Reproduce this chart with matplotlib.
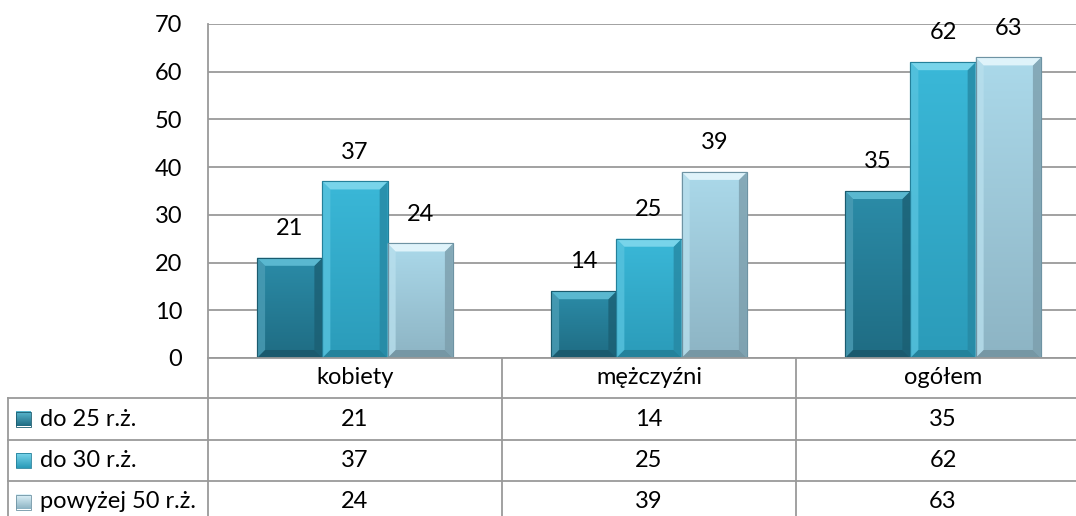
import numpy as np
import matplotlib
matplotlib.use("Agg")
import matplotlib.pyplot as plt
from matplotlib import transforms
from matplotlib.patches import Polygon, Rectangle
from matplotlib.colors import to_rgb

plt.rcParams['font.family'] = ['Lato', 'DejaVu Sans']

categories = ["kobiety", "mężczyźni", "ogółem"]
series_names = ["do 25 r.ż.", "do 30 r.ż.", "powyżej 50 r.ż."]
values = [
    [21, 14, 35],
    [37, 25, 62],
    [24, 39, 63],
]
yticks = [0, 10, 20, 30, 40, 50, 60, 70]

# (top body, bottom body, bevel highlight, edge)
styles = [
    ("#2b8ca8", "#1f6c83", "#5ab8d0", "#1a5b6e"),
    ("#3ab8d8", "#2b9bb9", "#78d4ea", "#24809a"),
    ("#abd9ea", "#8db4c4", "#dff3fa", "#6e93a3"),
]

FS = 17
W, H, DPI = 1076, 516, 100
fig = plt.figure(figsize=(W / DPI, H / DPI), dpi=DPI)

# pixel layout
ax_l, ax_r, ax_t, ax_b = 208, 1090, 24, 358
ax = fig.add_axes([ax_l / W, (H - ax_b) / H, (ax_r - ax_l) / W, (ax_b - ax_t) / H])
ax.set_xlim(-0.5, len(categories) - 0.5)
ax.set_ylim(0, 70)
ax.set_yticks(yticks)
ax.tick_params(axis='y', length=0, pad=18.5, labelsize=FS)
ax.set_xticks([])
for s in ax.spines.values():
    s.set_visible(False)
ax.grid(axis='y', color='#9a9a9a', linewidth=1.3)
ax.set_axisbelow(True)

grid_c = '#9a9a9a'
bw = 0.222
x = np.arange(len(categories))
px_per_x = (ax_r - ax_l) / 3.0
px_per_y = (ax_b - ax_t) / 70.0
bev_px = 8
bx = bev_px / px_per_x
by = bev_px / px_per_y

def mix(c, t):
    r = np.array(to_rgb(c))
    return tuple(r + (1 - r) * t) if t >= 0 else tuple(r * (1 + t))

for i, (vals, st) in enumerate(zip(values, styles)):
    top_c, bot_c, hi_c, edge_c = st
    bars = ax.bar(x + (i - 1) * bw, vals, width=bw, color=top_c,
                  edgecolor=edge_c, linewidth=0.8, zorder=3)
    for b, v in zip(bars, vals):
        x0, w, h = b.get_x(), b.get_width(), b.get_height()
        # vertical gradient body
        grad = np.linspace(0, 1, 64)[:, None]
        c1, c2 = np.array(to_rgb(bot_c)), np.array(to_rgb(top_c))
        img = c1[None, None, :] * (1 - grad[..., None]) + c2[None, None, :] * grad[..., None]
        im = ax.imshow(img, extent=(x0, x0 + w, 0, h), origin='lower',
                       aspect='auto', zorder=3.1, interpolation='bilinear')
        im.set_clip_path(b)
        # bevels
        top = Polygon([(x0, h), (x0 + w, h), (x0 + w - bx, h - by), (x0 + bx, h - by)],
                      closed=True, facecolor=hi_c, edgecolor='none', zorder=3.2)
        left = Polygon([(x0, 0), (x0, h), (x0 + bx, h - by), (x0 + bx, by)],
                       closed=True, facecolor=mix(top_c, 0.15), edgecolor='none', zorder=3.2, alpha=0.8)
        right = Polygon([(x0 + w, 0), (x0 + w, h), (x0 + w - bx, h - by), (x0 + w - bx, by)],
                        closed=True, facecolor=mix(bot_c, -0.12), edgecolor='none', zorder=3.2, alpha=0.8)
        bottom = Polygon([(x0, 0), (x0 + w, 0), (x0 + w - bx, by), (x0 + bx, by)],
                         closed=True, facecolor=mix(bot_c, -0.2), edgecolor='none', zorder=3.2, alpha=0.8)
        for p in (left, right, bottom, top):
            ax.add_patch(p)
        ax.add_patch(Rectangle((x0, 0), w, h, facecolor='none', edgecolor=edge_c,
                               linewidth=0.8, zorder=3.3))
        ax.annotate(str(v), (x0 + w / 2, h), xytext=(0, 13.5), textcoords='offset points',
                    ha='center', va='bottom', fontsize=FS, zorder=4)

# left axis line
ax.plot([0, 0], [0, 1], transform=ax.transAxes, color=grid_c, lw=1.3, clip_on=False, zorder=2)

# overlay in pixel coords for the data table
ov = fig.add_axes([0, 0, 1, 1])
ov.set_xlim(0, W)
ov.set_ylim(H, 0)
ov.axis('off')
ov.patch.set_alpha(0)
bt = transforms.blended_transform_factory(ax.transData, ov.transData)

tab_l = 8
row_edges = [358, 398, 440, 481, 523]
col_edges = [ax_l, 502, 796, ax_r]
lw = 1.3
ov.plot([ax_l, ax_r], [row_edges[0]] * 2, color=grid_c, lw=lw)
for yv in row_edges[1:]:
    ov.plot([tab_l, ax_r], [yv, yv], color=grid_c, lw=lw)
for xv in col_edges:
    ov.plot([xv, xv], [row_edges[0], row_edges[-1]], color=grid_c, lw=lw)
ov.plot([tab_l, tab_l], [row_edges[1], row_edges[-1]], color=grid_c, lw=lw)

# header
hy = (row_edges[0] + row_edges[1]) / 2
for xi, cat in zip(x, categories):
    ov.text(xi, hy, cat, transform=bt, ha='center', va='center', fontsize=FS)

# rows
for r, (name, vals, st) in enumerate(zip(series_names, values, styles)):
    cy = (row_edges[r + 1] + row_edges[r + 2]) / 2
    top_c, bot_c, hi_c, edge_c = st
    ms = 15
    mx0 = 16
    grad = np.linspace(0, 1, 16)[:, None]
    c1, c2 = np.array(to_rgb(bot_c)), np.array(to_rgb(hi_c))
    img = c2[None, None, :] * (1 - grad[..., None]) + c1[None, None, :] * grad[..., None]
    ov.imshow(img, extent=(mx0, mx0 + ms, cy + ms / 2, cy - ms / 2), aspect='auto',
              interpolation='bilinear', zorder=3)
    ov.add_patch(Rectangle((mx0, cy - ms / 2), ms, ms, facecolor='none',
                           edgecolor=edge_c, lw=0.6, zorder=4))
    ov.text(40, cy, name, ha='left', va='center', fontsize=FS)
    for xi, v in zip(x, vals):
        ov.text(xi, cy, str(v), transform=bt, ha='center', va='center', fontsize=FS)
ov.set_xlim(0, W)
ov.set_ylim(H, 0)

fig.savefig("out.png", dpi=DPI)
